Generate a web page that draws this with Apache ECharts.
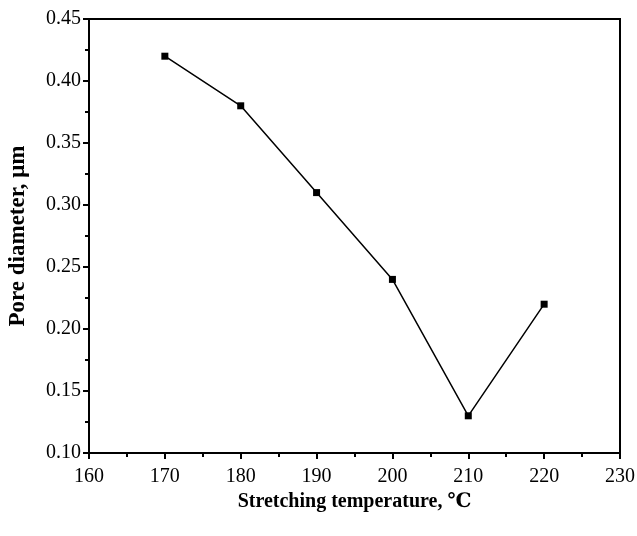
<!DOCTYPE html>
<html>
<head>
<meta charset="utf-8">
<script src="https://cdn.jsdelivr.net/npm/echarts@6/dist/echarts.min.js"></script>
<style>
  html, body { margin: 0; padding: 0; background: #fff; }
  #chart { width: 637px; height: 536px; }
</style>
</head>
<body>
<div id="chart"></div>
<script>
// 拉伸温度与孔径数据
const temperatures = [170, 180, 190, 200, 210, 220];
const poreDiameter = [0.42, 0.38, 0.31, 0.24, 0.13, 0.22];

const chart = echarts.init(document.getElementById('chart'));
const font = '"Liberation Serif", "DejaVu Serif", serif';

const option = {
  animation: false,
  grid: {
    left: 89,
    right: 17,
    top: 19,
    bottom: 83,
    outerBoundsMode: 'none',
    show: true,
    borderColor: '#000',
    borderWidth: 2
  },
  xAxis: {
    type: 'value',
    min: 160,
    max: 230,
    interval: 10,
    name: 'Stretching temperature, ℃',
    nameLocation: 'middle',
    nameGap: 27,
    nameTextStyle: { fontFamily: font, fontSize: 20, fontWeight: 'bold', color: '#000' },
    axisLine: { lineStyle: { color: '#000', width: 2 } },
    axisTick: { inside: false, length: 6, lineStyle: { color: '#000', width: 2 } },
    minorTick: { show: true, splitNumber: 2, length: 4, lineStyle: { color: '#000', width: 2 } },
    axisLabel: { fontFamily: font, fontSize: 20, color: '#000', margin: 14 },
    splitLine: { show: false }
  },
  yAxis: {
    type: 'value',
    min: 0.10,
    max: 0.45,
    interval: 0.05,
    name: 'Pore diameter, μm',
    nameLocation: 'middle',
    nameGap: 59,
    nameTextStyle: { fontFamily: font, fontSize: 23, fontWeight: 'bold', color: '#000' },
    axisLine: { lineStyle: { color: '#000', width: 2 } },
    axisTick: { inside: false, length: 6, lineStyle: { color: '#000', width: 2 } },
    minorTick: { show: true, splitNumber: 2, length: 4, lineStyle: { color: '#000', width: 2 } },
    axisLabel: {
      fontFamily: font, fontSize: 20, color: '#000', margin: 8,
      formatter: v => v.toFixed(2)
    },
    splitLine: { show: false }
  },
  series: [{
    type: 'line',
    data: temperatures.map((t, i) => [t, poreDiameter[i]]),
    symbol: 'rect',
    symbolSize: 7,
    itemStyle: { color: '#000' },
    lineStyle: { color: '#000', width: 1.5 }
  }]
};

chart.setOption(option);
</script>
</body>
</html>
